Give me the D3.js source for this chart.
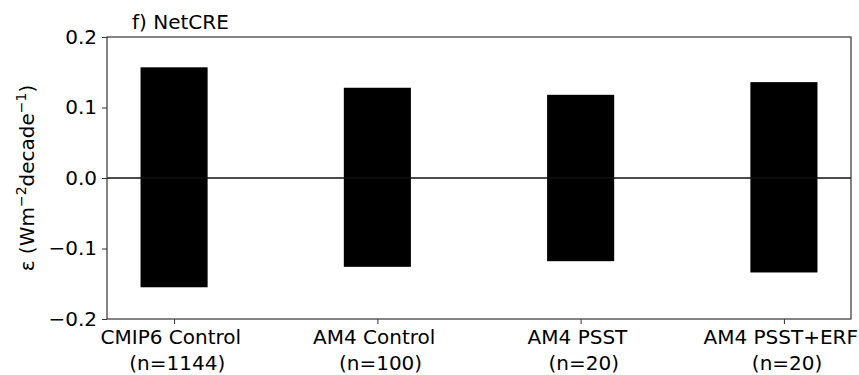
<!DOCTYPE html>
<html>
<head>
<meta charset="utf-8">
<script src="https://cdn.jsdelivr.net/npm/d3@7"></script>
<style>
  html, body { margin: 0; padding: 0; background: #fff; }
  svg { display: block; font-family: "DejaVu Sans", sans-serif; }
</style>
</head>
<body>
<svg id="chart" width="859" height="375"></svg>
<script>
// Experiment names and ensemble sizes (two-line tick labels)
const categories = ["CMIP6 Control", "AM4 Control", "AM4 PSST", "AM4 PSST+ERF"];
const sampleSizes = ["(n=1144)", "(n=100)", "(n=20)", "(n=20)"];
// Spread of the NetCRE trend: upper and lower bounds (W m-2 decade-1)
const upperBound = [0.157, 0.128, 0.118, 0.136];
const lowerBound = [-0.155, -0.126, -0.118, -0.134];
const yTicks = [-0.2, -0.1, 0.0, 0.1, 0.2];
const panelTitle = "f) NetCRE";

const svg = d3.select("#chart");
const plot = { left: 107, right: 851, top: 37, bottom: 319 };
const fontSize = 20;
const barWidth = 0.33;
// the two label lines sit half a space off-centre, in opposite directions
const halfSpace = 0.318 * fontSize / 2;

const x = d3.scaleLinear().domain([-0.33, categories.length - 1 + 0.33]).range([plot.left, plot.right]);
const y = d3.scaleLinear().domain([-0.2, 0.2]).range([plot.bottom, plot.top]);

// Floating bars from lower to upper bound
svg.append("g").selectAll("rect").data(categories).join("rect")
  .attr("x", (d, i) => x(i - barWidth / 2))
  .attr("width", (d, i) => x(i + barWidth / 2) - x(i - barWidth / 2))
  .attr("y", (d, i) => y(upperBound[i]))
  .attr("height", (d, i) => y(lowerBound[i]) - y(upperBound[i]))
  .attr("fill", "#000");

// Zero reference line
svg.append("line")
  .attr("x1", plot.left).attr("x2", plot.right)
  .attr("y1", y(0)).attr("y2", y(0))
  .attr("stroke", "#111").attr("stroke-width", 1.5);

// Axes
const yAxis = d3.axisLeft(y).tickValues(yTicks).tickSize(5).tickPadding(5)
  .tickFormat(d => d3.format(".1f")(d).replace("-", "\u2212"));
const gy = svg.append("g").attr("transform", `translate(${plot.left},0)`).call(yAxis);
gy.select(".domain").remove();
gy.selectAll(".tick line").attr("stroke", "#333");
gy.selectAll(".tick text").attr("font-size", fontSize).attr("font-family", "DejaVu Sans").attr("fill", "#000");

const xAxis = d3.axisBottom(x).tickValues(d3.range(categories.length)).tickSize(5).tickFormat("");
const gx = svg.append("g").attr("transform", `translate(0,${plot.bottom})`).call(xAxis);
gx.select(".domain").remove();
gx.selectAll(".tick line").attr("stroke", "#333");

// Two-line category labels
const labels = svg.append("g").selectAll("text").data(categories).join("text")
  .attr("text-anchor", "middle").attr("font-size", fontSize).attr("fill", "#000");
labels.append("tspan").attr("x", (d, i) => x(i) - halfSpace).attr("y", 344).text(d => d);
labels.append("tspan").attr("x", (d, i) => x(i) + halfSpace).attr("y", 370).text((d, i) => sampleSizes[i]);

// Frame
svg.append("rect")
  .attr("x", plot.left).attr("y", plot.top)
  .attr("width", plot.right - plot.left).attr("height", plot.bottom - plot.top)
  .attr("fill", "none").attr("stroke", "#333").attr("stroke-width", 1.2);

// Panel title
svg.append("text").attr("x", 132).attr("y", 29)
  .attr("font-size", fontSize).attr("fill", "#000").text(panelTitle);

// Y-axis label with superscript exponents
const yl = svg.append("text")
  .attr("transform", `translate(34,${y(0)}) rotate(-90)`)
  .attr("text-anchor", "middle").attr("font-size", fontSize).attr("fill", "#000");
yl.append("tspan").text("\u03b5 (Wm");
yl.append("tspan").attr("font-size", 14).attr("dy", -8).text("\u22122");
yl.append("tspan").attr("dy", 8).text("decade");
yl.append("tspan").attr("font-size", 14).attr("dy", -8).text("\u22121");
yl.append("tspan").attr("dy", 8).text(")");
</script>
</body>
</html>
